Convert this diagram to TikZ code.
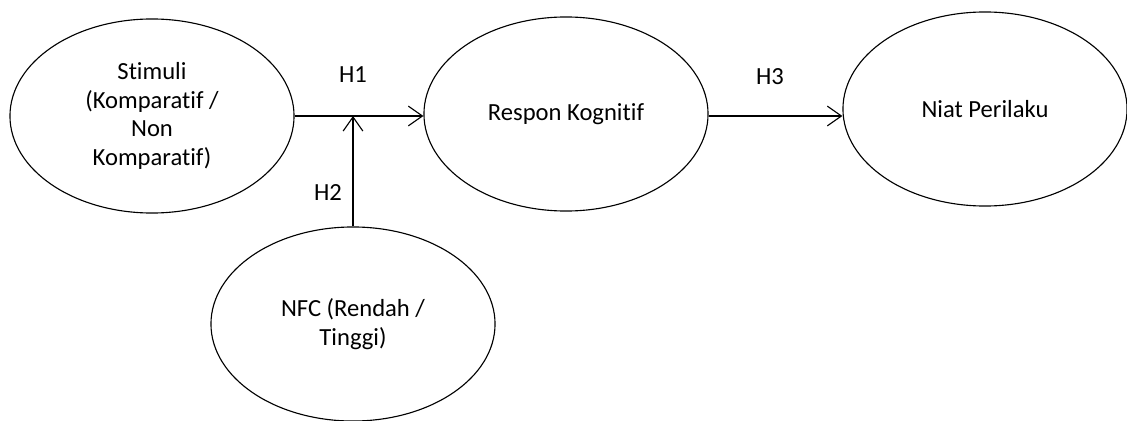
\documentclass[tikz,border=0pt]{standalone}
\usepackage{fontspec}
\setmainfont{Carlito}[Ligatures=NoCommon]
\usetikzlibrary{shapes.geometric, positioning, arrows.meta}

\begin{document}
\begin{tikzpicture}[
    x=0.025cm, y=-0.025cm,
    construct/.style={draw, ellipse, line width=0.8pt, inner sep=0pt,
        minimum width=\ewidth, minimum height=\eheight, align=center,
        font=\fontsize{17.5}{20.5}\selectfont},
    hyplabel/.style={font=\fontsize{17.5}{20.5}\selectfont},
    link/.style={line width=0.8pt, -{Straight Barb[length=10pt, width=14pt]}}
]

% Ellipse sizes
\def\ewidth{7.1cm}
\def\eheight{4.85cm}

\useasboundingbox (0,0) rectangle (1127,421);

% Constructs
\node[construct] (stimuli) at (152,116) {Stimuli\\(Komparatif /\\Non\\Komparatif)};
\node[construct] (respon) at (566,114) {Respon Kognitif};
\node[construct] (niat) at (985,109) {Niat Perilaku};
\node[construct] (nfc) at (353,324) {NFC (Rendah /\\Tinggi)};

% Paths between constructs
\coordinate (join) at (nfc.north |- stimuli.east);
\draw[link] (stimuli.east) -- (stimuli.east -| respon.west);
\draw[link] (respon.east |- stimuli.east) -- (stimuli.east -| niat.west);
\draw[link] (nfc.north) -- (join);

% Hypothesis labels
\node[hyplabel] (h1) at (353,75) {H1};
\node[hyplabel] (h2) at (328,193) {H2};
\node[hyplabel] (h3) at (770,77) {H3};

\end{tikzpicture}
\end{document}
